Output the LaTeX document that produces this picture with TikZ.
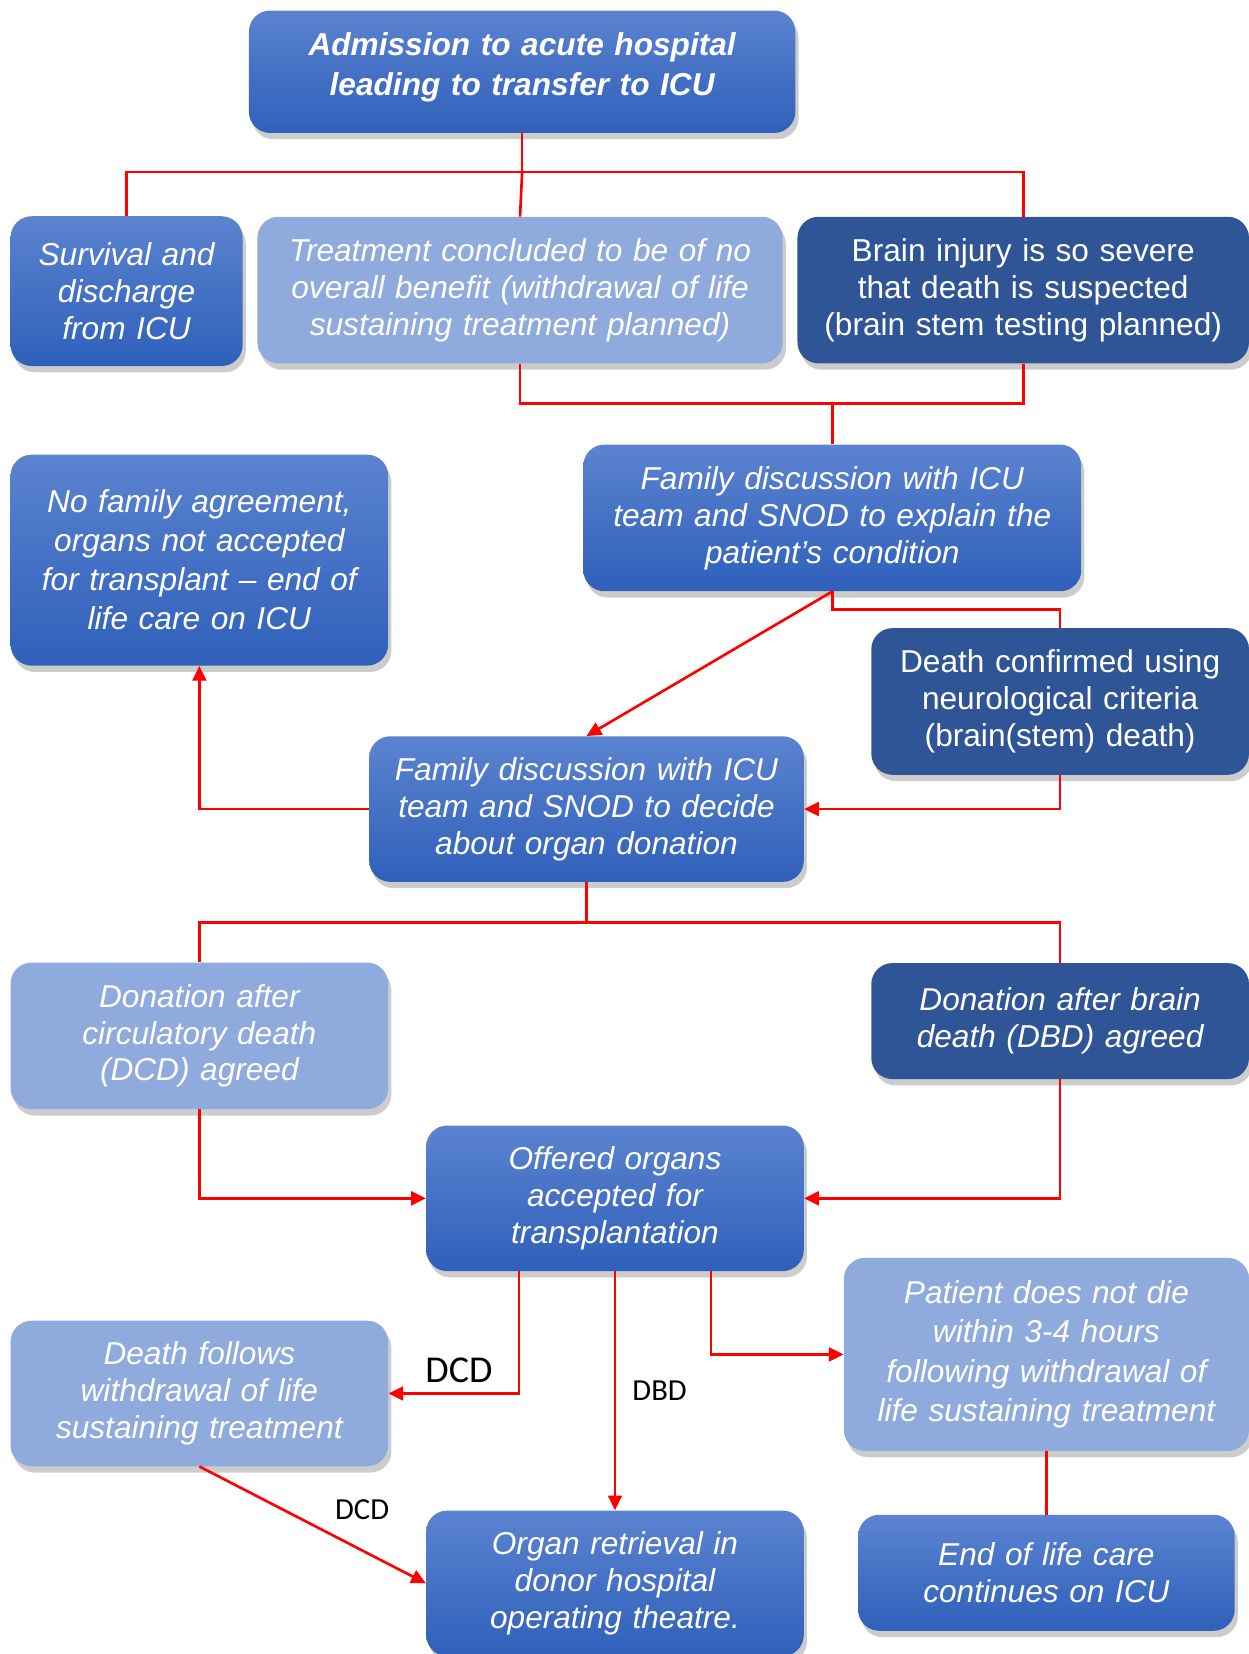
\documentclass[tikz,border=0pt]{standalone}
\usepackage{fontspec}
\setmainfont{Liberation Sans}
\newfontfamily\tagfont{Carlito}
\usepackage{tikz}
\usetikzlibrary{arrows.meta, shadows}
\definecolor{medtop}{HTML}{5B83D0}
\definecolor{medbot}{HTML}{2F60BA}
\definecolor{lightblue}{HTML}{8FAADC}
\definecolor{darkblue}{HTML}{2F5597}
\definecolor{linkred}{HTML}{FF0000}

\begin{document}
\begin{tikzpicture}[x=1pt, y=-1pt, >={Triangle[length=14pt, width=13pt]},
    box/.style={rounded corners=20pt, text=white, align=center, inner sep=0pt,
        font=\fontsize{30}{35}\selectfont\itshape,
        drop shadow={shadow xshift=3pt, shadow yshift=-6pt, opacity=0.4}},
    med/.style={box, top color=medtop, bottom color=medbot},
    light/.style={box, fill=lightblue},
    dark/.style={box, fill=darkblue},
    upright/.style={font=\fontsize{30}{35}\selectfont},
    link/.style={draw=linkred, line width=2.5pt},
    tag/.style={font=\tagfont\fontsize{29}{32}\selectfont}]
    \useasboundingbox (0,0) rectangle (1184,1568);

    % boxes
    \node[med, minimum width=518pt, minimum height=116pt, text width=500pt,
        font=\fontsize{30}{38}\selectfont\bfseries\itshape] (adm) at (495,68)
        {Admission to acute hospital\\leading to transfer to ICU\vspace{8pt}};
    \node[med, minimum width=220pt, minimum height=142pt, text width=210pt] (surv) at (120,276)
        {Survival and\\discharge\\from ICU};
    \node[light, minimum width=498pt, minimum height=139pt, text width=490pt] (treat) at (493,275)
        {Treatment concluded to be of no\\overall benefit (withdrawal of life\\sustaining treatment planned)};
    \node[dark, upright, minimum width=428pt, minimum height=139pt, text width=420pt] (brain) at (970,275)
        {Brain injury is so severe\\that death is suspected\\(brain stem testing planned)};
    \node[med, minimum width=472pt, minimum height=139pt, text width=460pt] (fam1) at (789,491)
        {Family discussion with ICU\\team and SNOD to explain the\\patient’s condition};
    \node[med, minimum width=358pt, minimum height=200pt, text width=350pt,
        font=\fontsize{30}{37}\selectfont\itshape] (nofam) at (189,531)
        {No family agreement,\\organs not accepted\\for transplant – end of\\life care on ICU};
    \node[dark, upright, minimum width=358pt, minimum height=139pt, text width=350pt] (dconf) at (1005,665)
        {Death confirmed using\\neurological criteria\\(brain(stem) death)};
    \node[med, minimum width=412pt, minimum height=138pt, text width=404pt] (fam2) at (556,767)
        {Family discussion with ICU\\team and SNOD to decide\\about organ donation};
    \node[light, minimum width=358pt, minimum height=139pt, text width=350pt] (dcd) at (189,982)
        {Donation after\\circulatory death\\(DCD) agreed};
    \node[dark, minimum width=358pt, minimum height=110pt, text width=350pt] (dbd) at (1005,968)
        {Donation after brain\\death (DBD) agreed};
    \node[med, minimum width=358pt, minimum height=138pt, text width=350pt] (offer) at (583,1136)
        {Offered organs\\accepted for\\transplantation};
    \node[light, minimum width=358pt, minimum height=138pt, text width=350pt] (follow) at (189,1321)
        {Death follows\\withdrawal of life\\sustaining treatment};
    \node[light, minimum width=384pt, minimum height=183pt, text width=376pt,
        font=\fontsize{30}{37.5}\selectfont\itshape] (notdie) at (992,1284)
        {Patient does not die\\within 3-4 hours\\following withdrawal of\\life sustaining treatment};
    \node[med, minimum width=357pt, minimum height=110pt, text width=349pt] (eol) at (992,1491)
        {End of life care\\continues on ICU};
    \node[med, minimum width=358pt, minimum height=138pt, text width=350pt] (retr) at (583,1501)
        {Organ retrieval in\\donor hospital\\operating theatre.};

    % connectors
    \coordinate (bus) at (495,163);
    \draw[link] (adm.south) -- (bus);
    \draw[link] (surv.north) |- (bus) -| (brain.north);
    \draw[link] (bus) -- (treat.north);
    \draw[link] (treat.south) -- ++(0,38) -| (brain.south);
    \draw[link] (fam1.north) -- ++(0,-40);
    \draw[link, ->] (fam1.south) -- (fam2.north);
    \draw[link] (fam1.south) -- ++(0,17) -| (dconf.north);
    \draw[link, ->] (dconf.south) |- (fam2.east);
    \draw[link, ->] (fam2.west) -| (nofam.south);
    \draw[link] (fam2.south) -- ++(0,39);
    \draw[link] (dcd.north) -- ++(0,-38) -| (dbd.north);
    \draw[link, ->] (dcd.south) |- (offer.west);
    \draw[link, ->] (dbd.south) |- (offer.east);
    \draw[link, ->] ([xshift=-91pt]offer.south) |- (follow.east)
        node[tag, pos=0.73, above=6pt, font=\tagfont\fontsize{36}{40}\selectfont, text=black] {DCD};
    \draw[link, ->] (offer.south) -- (retr.north)
        node[tag, midway, right=12pt, text=black] {DBD};
    \draw[link, ->] ([xshift=91pt]offer.south) |- (notdie.west);
    \draw[link] (notdie.south) -- (eol.north);
    \draw[link, ->] (follow.south) -- (retr.west)
        node[tag, pos=0.55, above right=6pt, text=black] {DCD};
\end{tikzpicture}
\end{document}
